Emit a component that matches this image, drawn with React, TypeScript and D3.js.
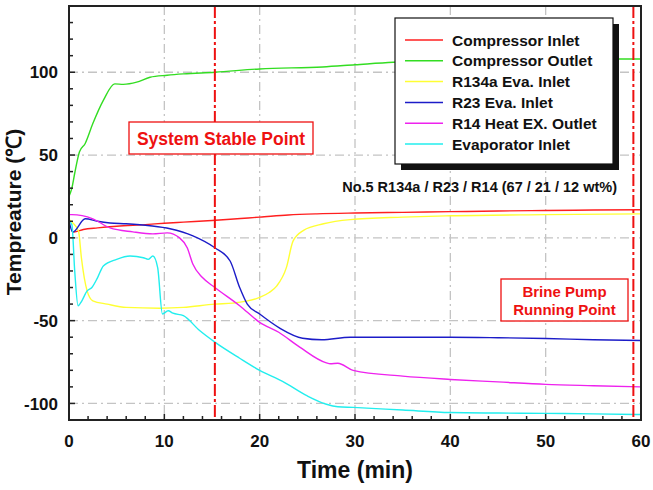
import React from "react";
import * as d3 from "d3";

// ---- data -------------------------------------------------------------
const seriesNames = [
  "Compressor Inlet",
  "Compressor Outlet",
  "R134a Eva. Inlet",
  "R23 Eva. Inlet",
  "R14 Heat EX. Outlet",
  "Evaporator Inlet",
];
const seriesColors = ["#ff1f1f", "#33dd22", "#ffff33", "#1c1cc8", "#ee22ee", "#22eeee"];

const compInletTime = [0.3, 0.5, 1.5, 3, 5, 8, 10, 12, 15, 18, 20, 23, 26, 30, 35, 40, 45, 50, 55, 60];
const compInletTemp = [4, 3.5, 5, 6, 7, 8, 8.8, 9.5, 10.5, 11.7, 12.5, 13.8, 14.5, 15, 15.4, 15.8, 16.2, 16.5, 16.8, 17];

const compOutletTime = [0, 0.3, 0.6, 1.1, 1.7, 2.5, 3.6, 4.8, 5.7, 7.1, 8.5, 10.3, 12, 15.3, 20, 26.6, 30, 34, 40, 45, 50, 57, 60];
const compOutletTemp = [25, 30, 39, 52, 57, 69, 83, 93, 92.7, 94, 97, 98.2, 99, 100, 102, 103.2, 104.5, 106, 107, 107.5, 108, 108, 108];

const r134aTime = [0, 0.4, 1, 1.3, 1.9, 2.5, 4, 6, 9.5, 12, 15.3, 17.2, 20, 21, 21.8, 22.8, 23.5, 24.6, 26.7, 29.5, 35, 40, 50, 60];
const r134aTemp = [11, 9, 4, -12, -32, -38, -40, -42, -42.5, -42, -40, -39.4, -36, -33, -29, -18, -2, 4.5, 8.5, 11, 12.5, 13.3, 14, 14.5];

const r23Time = [0, 0.4, 1.7, 3, 4.3, 6, 8.5, 10.6, 13, 15.3, 16.9, 17.9, 18.7, 20, 22.1, 24.5, 26.5, 29.5, 35, 40, 45, 50, 55, 60];
const r23Temp = [10, 3.5, 11.5, 10, 9, 8.5, 7.3, 5.5, 1.2, -6, -14, -30, -40, -46, -54.5, -60.6, -61.5, -60, -60, -60, -60.3, -60.8, -61.5, -62];

const r14Time = [0, 0.3, 2.5, 4.3, 6.7, 8.8, 10.3, 11.6, 12.4, 13, 14, 15.3, 17.9, 20, 22, 24.2, 27, 27.4, 28.2, 29.8, 35, 40, 45, 50, 55, 60];
const r14Temp = [14, 14, 11.5, 6, 3.6, 2.4, 3, 0, -6, -16, -24, -30, -41, -51, -57, -66, -75.5, -76, -75.7, -80, -83.5, -85.5, -87, -88.5, -89.3, -90];

const evapTime = [0, 0.3, 0.6, 0.95, 1.35, 1.9, 2.4, 3, 3.6, 5, 6.4, 7.8, 8.3, 8.8, 9.3, 9.8, 10.4, 10.9, 12, 13.7, 15.3, 17.9, 20, 22.4, 25, 27, 28.2, 29.8, 35, 40, 45, 50, 55, 60];
const evapTemp = [10, 8, -20, -41, -38, -32, -30, -24, -17, -13, -11, -12, -13, -11, -18, -46, -44, -45.5, -47, -56, -63, -72.7, -80, -86.7, -95.5, -100.5, -102, -102.4, -104, -105.5, -105.8, -106, -106.3, -106.7];

const seriesTimes = [compInletTime, compOutletTime, r134aTime, r23Time, r14Time, evapTime];
const seriesTemps = [compInletTemp, compOutletTemp, r134aTemp, r23Temp, r14Temp, evapTemp];

const xMajorTicks = [0, 10, 20, 30, 40, 50, 60];
const yMajorTicks = [-100, -50, 0, 50, 100];
const markerTimes = [15.3, 59.2];

const mixtureLabel = "No.5 R134a / R23 / R14 (67 / 21 / 12 wt%)";
const stableLabel = "System Stable Point";
const pumpLabel = ["Brine Pump", "Running Point"];

// ---- layout -----------------------------------------------------------
const W = 653;
const H = 490;
const plot = { left: 69, right: 641, top: 6, bottom: 420 };
const FONT = "'Liberation Sans', Arial, Helvetica, sans-serif";

export default function App() {
  const x = d3.scaleLinear().domain([0, 60]).range([plot.left, plot.right]);
  const y = d3.scaleLinear().domain([-110, 140]).range([plot.bottom, plot.top]);

  const line = d3
    .line<[number, number]>()
    .x((d) => x(d[0]))
    .y((d) => y(d[1]))
    .curve(d3.curveMonotoneX);

  const xMinor = d3.range(0, 61, 2);
  const yMinor = d3.range(-110, 141, 10);
  const gridDash = "9 4 2 4";

  const legend = { x: 395, y: 18, w: 218, h: 146 };

  return (
    <svg
      width={W}
      height={H}
      style={{ position: "absolute", left: 0, top: 0, background: "#fff" }}
      fontFamily={FONT}
      fontWeight="bold"
    >
      <defs>
        <clipPath id="plotClip">
          <rect x={plot.left} y={plot.top} width={plot.right - plot.left} height={plot.bottom - plot.top} />
        </clipPath>
      </defs>

      {/* grid */}
      {xMajorTicks
        .filter((t) => t > 0 && t < 60)
        .map((t) => (
          <line key={`gx${t}`} x1={x(t)} x2={x(t)} y1={plot.top} y2={plot.bottom} stroke="#c4c4c4" strokeWidth={1.3} strokeDasharray={gridDash} />
        ))}
      {yMajorTicks.map((v) => (
        <line key={`gy${v}`} x1={plot.left} x2={plot.right} y1={y(v)} y2={y(v)} stroke="#c4c4c4" strokeWidth={1.3} strokeDasharray={gridDash} />
      ))}

      {/* series */}
      <g clipPath="url(#plotClip)">
        {seriesTimes.map((ts, i) => (
          <path
            key={seriesNames[i]}
            d={line(ts.map((t, j) => [t, seriesTemps[i][j]] as [number, number])) || ""}
            fill="none"
            stroke={seriesColors[i]}
            strokeWidth={1.4}
            strokeLinejoin="round"
          />
        ))}
      </g>

      {/* marker lines */}
      {markerTimes.map((t) => (
        <line key={`m${t}`} x1={x(t)} x2={x(t)} y1={plot.top} y2={plot.bottom} stroke="#ee1111" strokeWidth={2} strokeDasharray="12 3 3 3" />
      ))}

      {/* frame */}
      <rect x={plot.left} y={plot.top} width={plot.right - plot.left} height={plot.bottom - plot.top} fill="none" stroke="#222" strokeWidth={2} />

      {/* ticks */}
      {xMinor.map((t) => (
        <line key={`tx${t}`} x1={x(t)} x2={x(t)} y1={plot.bottom} y2={plot.bottom - (t % 10 === 0 ? 6 : 4)} stroke="#222" strokeWidth={1.5} />
      ))}
      {yMinor.map((v) => (
        <line key={`ty${v}`} x1={plot.left} x2={plot.left + (v % 50 === 0 ? 6 : 4)} y1={y(v)} y2={y(v)} stroke="#222" strokeWidth={1.5} />
      ))}

      {/* tick labels */}
      {xMajorTicks.map((t) => (
        <text key={`lx${t}`} x={x(t)} y={447} textAnchor="middle" fontSize={17} fill="#111">
          {t}
        </text>
      ))}
      {yMajorTicks.map((v) => (
        <text key={`ly${v}`} x={58} y={y(v)} dy="0.36em" textAnchor="end" fontSize={17} fill="#111">
          {v}
        </text>
      ))}

      {/* axis titles */}
      <text x={(plot.left + plot.right) / 2} y={478} textAnchor="middle" fontSize={23} fill="#111">
        Time (min)
      </text>
      <text transform="translate(21,212) rotate(-90)" textAnchor="middle" fontSize={21} fill="#111">
        Tempreature (℃)
      </text>

      {/* annotations */}
      <rect x={129} y={122} width={184} height={32} fill="#fff" stroke="#ee1111" strokeWidth={1.3} />
      <text x={221} y={145} textAnchor="middle" fontSize={17.5} fill="#ee1111">
        {stableLabel}
      </text>

      <rect x={501} y={279} width={127} height={42} fill="#fff" stroke="#ee1111" strokeWidth={1.3} />
      {pumpLabel.map((s, i) => (
        <text key={s} x={564.5} y={297 + i * 18} textAnchor="middle" fontSize={15} fill="#ee1111">
          {s}
        </text>
      ))}

      <text x={617} y={192} textAnchor="end" fontSize={14.5} fill="#111">
        {mixtureLabel}
      </text>

      {/* legend */}
      <rect x={legend.x + 6} y={legend.y + 6} width={legend.w} height={legend.h} fill="#111" />
      <rect x={legend.x} y={legend.y} width={legend.w} height={legend.h} fill="#fff" stroke="#111" strokeWidth={1.2} />
      {seriesNames.map((name, i) => {
        const cy = legend.y + 22 + i * 20.8;
        return (
          <g key={`lg${name}`}>
            <line x1={405} x2={443} y1={cy} y2={cy} stroke={seriesColors[i]} strokeWidth={1.5} />
            <text x={452} y={cy} dy="0.36em" fontSize={15.5} fill="#111">
              {name}
            </text>
          </g>
        );
      })}
    </svg>
  );
}
